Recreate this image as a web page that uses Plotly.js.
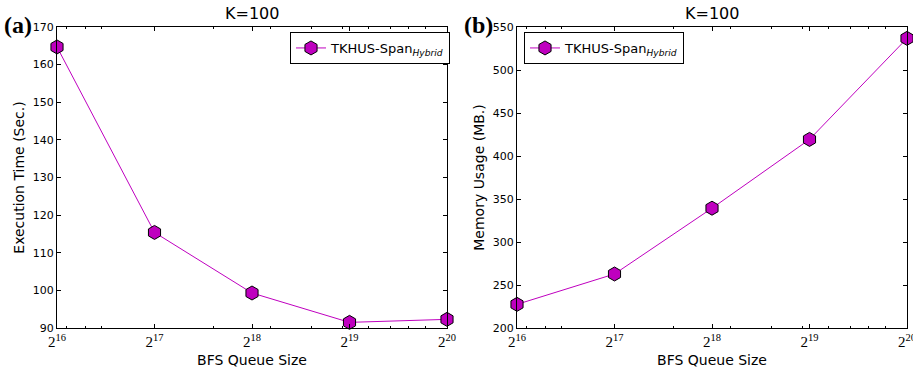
<!DOCTYPE html>
<html><head><meta charset="utf-8">
<script src="https://cdn.plot.ly/plotly-3.0.1.min.js"></script>
<style>body{margin:0;background:#fff}#g{width:913px;height:372px}</style>
</head><body><div id="g"></div>
<script>
const queueSizes = [65536, 131072, 262144, 524288, 1048576];
const queueTickText = ['2<sup>16</sup>','2<sup>17</sup>','2<sup>18</sup>','2<sup>19</sup>','2<sup>20</sup>'];
const minorTicks = [70000,80000,90000,200000,300000,400000,500000,600000,700000,800000,900000];
const execTime = [164.7, 115.4, 99.3, 91.5, 92.3];
const memUsage = [227.5, 262.8, 339.3, 419.3, 536.8];
const seriesName = 'TKHUS-Span<sub><i>Hybrid</i></sub>';

const W = 913, H = 372;
const mag = '#bf00bf';
const yDom = [1 - 328/H, 1 - 27/H];
function trace(y, xa, ya, leg) {
  return {x: queueSizes, y: y, xaxis: xa, yaxis: ya, legend: leg, name: seriesName,
    type: 'scatter', mode: 'lines+markers',
    line: {color: mag, width: 1},
    marker: {symbol: 'hexagon', size: 14, color: mag, line: {color: '#000', width: 1}},
    cliponaxis: false};
}
const axisFont = {family: 'DejaVu Sans', size: 14, color: '#000'};
const eps = 1e-6;
function xax(dom, anchor) {
  return {domain: dom, anchor: anchor, type: 'log',
    range: [Math.log10(65536) - eps, Math.log10(1048576) + eps],
    tickmode: 'array', tickvals: queueSizes, ticktext: queueTickText,
    tickfont: {family: 'Liberation Serif, DejaVu Serif', size: 15, color: '#000'},
    ticklabeloverflow: 'allow',
    ticks: 'inside', ticklen: 4, tickwidth: 1, tickcolor: '#000',
    minor: {tickmode: 'array', tickvals: minorTicks, ticks: 'inside', ticklen: 2, tickcolor: '#000'},
    showline: true, linecolor: '#000', linewidth: 1, mirror: 'ticks',
    showgrid: false, zeroline: false,
    title: {text: 'BFS Queue Size', font: axisFont, standoff: 6}};
}
function yax(dom, anchor, range, dtick, title) {
  return {domain: dom, anchor: anchor, range: range, dtick: dtick, tick0: range[0],
    tickfont: {family: 'DejaVu Sans', size: 11, color: '#000'},
    ticks: 'inside', ticklen: 4, tickwidth: 1, tickcolor: '#000',
    showline: true, linecolor: '#000', linewidth: 1, mirror: 'ticks',
    showgrid: false, zeroline: false,
    title: {text: title, font: axisFont, standoff: 4}};
}
const legStyle = {bgcolor: '#fff', bordercolor: '#000', borderwidth: 1,
  font: {family: 'DejaVu Sans', size: 13, color: '#000'},
  xanchor: 'left', yanchor: 'top', yref: 'paper', xref: 'paper'};
function ann(text, x, y, font, xanchor) {
  return {text: text, x: x / W, y: 1 - y / H, xref: 'paper', yref: 'paper',
    xanchor: xanchor, yanchor: 'middle', showarrow: false, font: font};
}
const titleFont = {family: 'DejaVu Sans', size: 16, color: '#000'};
const panelFont = {family: 'Liberation Serif', size: 24, color: '#000'};
const layout = {
  width: W, height: H, margin: {l: 0, r: 0, t: 0, b: 0},
  paper_bgcolor: '#fff', plot_bgcolor: '#fff', showlegend: true,
  xaxis: xax([57/W, 447/W], 'y'),
  yaxis: yax(yDom, 'x', [90, 170], 10, 'Execution Time (Sec.)'),
  xaxis2: xax([517/W, 907/W], 'y2'),
  yaxis2: yax(yDom, 'x2', [200, 550], 50, 'Memory Usage (MB.)'),
  legend: Object.assign({x: 290/W, y: 1 - 32/H}, legStyle),
  legend2: Object.assign({x: 524/W, y: 1 - 32/H}, legStyle),
  annotations: [
    ann('K=100', 252, 14, titleFont, 'center'),
    ann('K=100', 712, 14, titleFont, 'center'),
    ann('<b>(a)</b>', 2, 25, panelFont, 'left'),
    ann('<b>(b)</b>', 462, 25, panelFont, 'left')
  ]
};
Plotly.newPlot('g', [trace(execTime, 'x', 'y', 'legend'), trace(memUsage, 'x2', 'y2', 'legend2')], layout, {staticPlot: true});
</script></body></html>
